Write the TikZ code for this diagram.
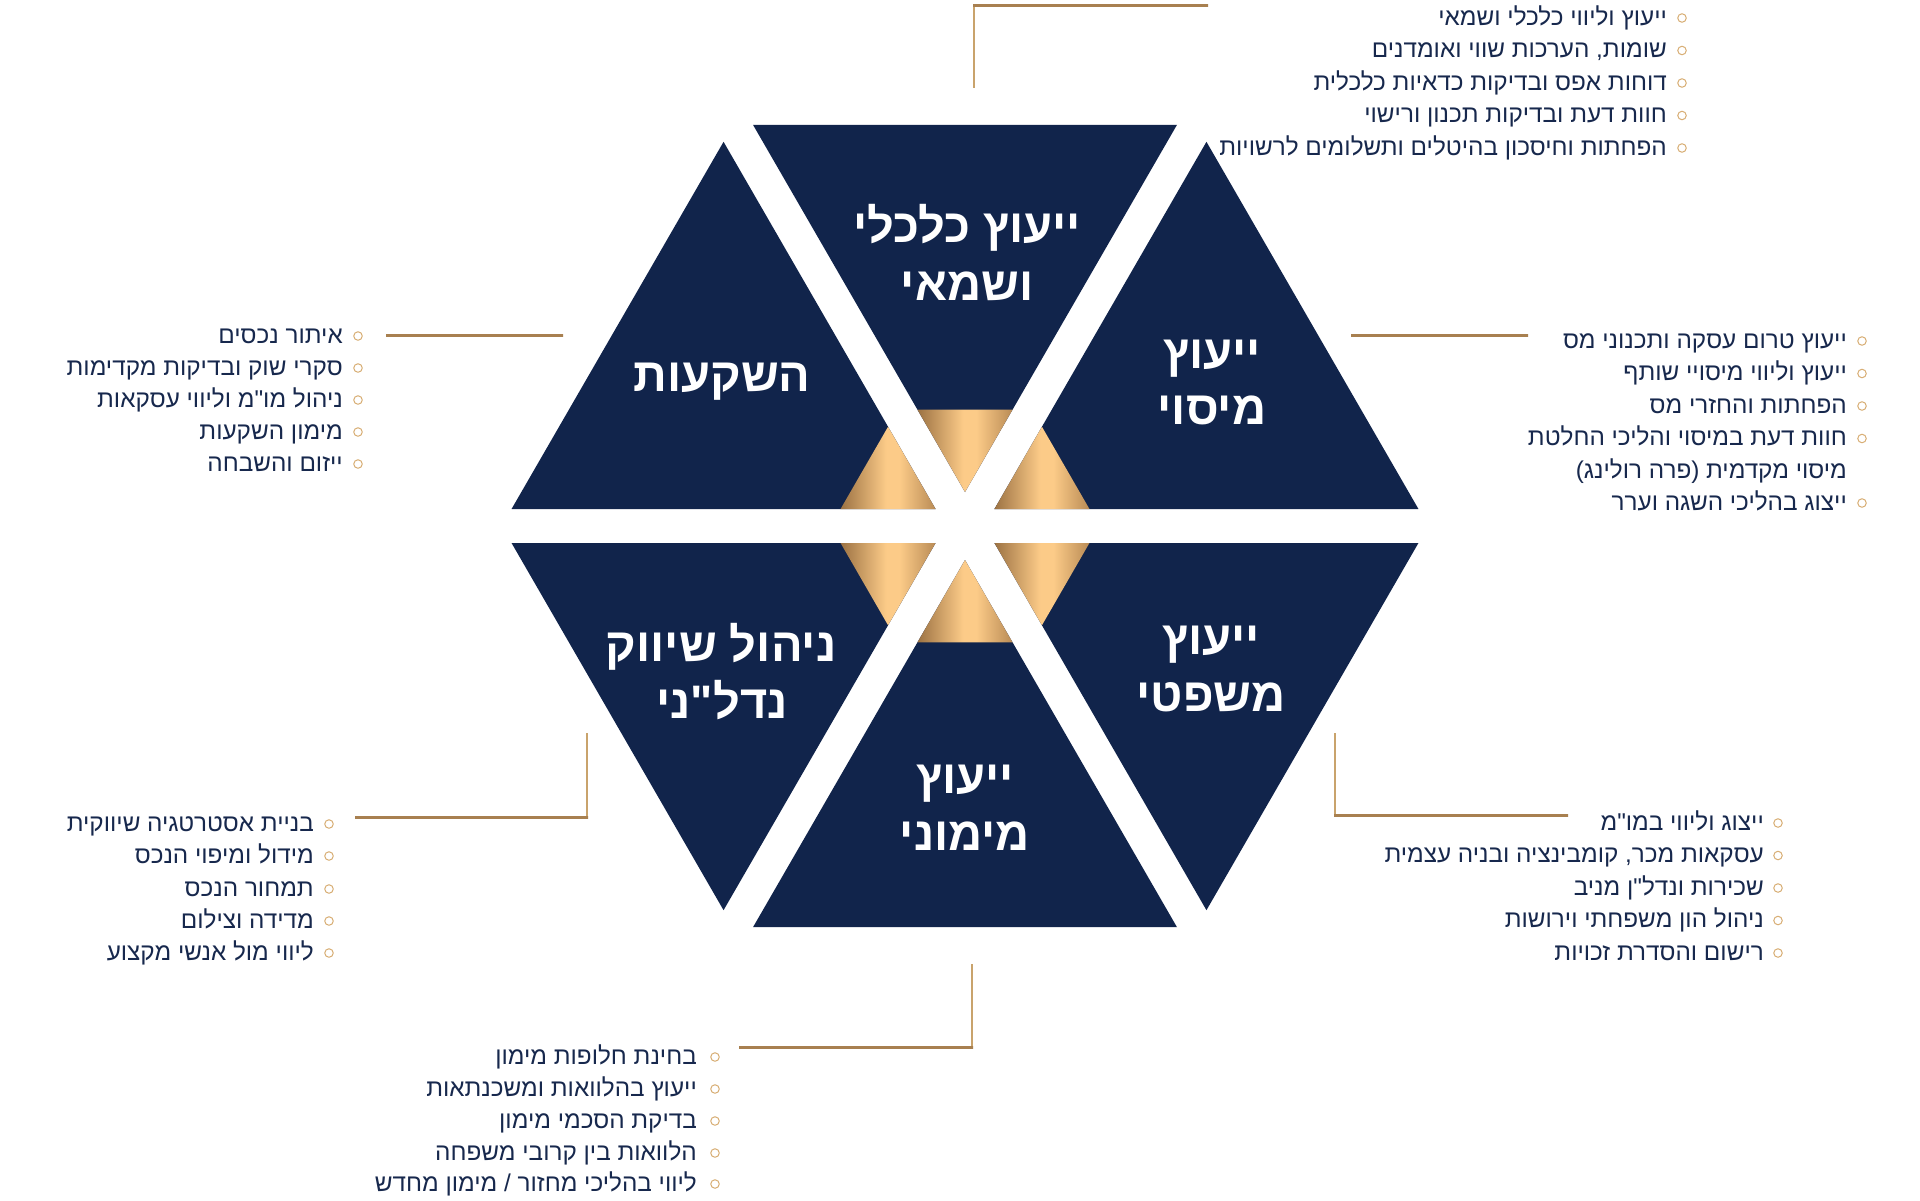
\documentclass[tikz,border=0pt]{standalone}
\usepackage{fontspec}
\usetikzlibrary{calc}
\TeXXeTstate=1
\newfontfamily\hebfont[Script=Hebrew]{Liberation Sans}
\definecolor{navy}{HTML}{11244B}
\definecolor{txtnavy}{HTML}{17284D}
\definecolor{goldD}{HTML}{9C7243}
\definecolor{goldL}{HTML}{FCCB88}
\definecolor{goldM}{HTML}{B98B55}
\definecolor{lineD}{HTML}{A88050}
\definecolor{lineL}{HTML}{FFD295}
\definecolor{lineV}{HTML}{C9A36C}
\definecolor{bulgold}{HTML}{D8AE74}
\pgfdeclarehorizontalshading{goldsh}{100bp}{color(0bp)=(goldD); color(25bp)=(goldD); color(49bp)=(goldL); color(56bp)=(goldL); color(75bp)=(goldM); color(100bp)=(goldM)}
\tikzset{
  titletext/.style={text=white, font=\hebfont\bfseries\fontsize{47}{57}\selectfont, inner sep=0pt, anchor=mid},
  itemtext/.style={text=txtnavy, font=\hebfont\fontsize{24.3}{32}\selectfont, inner sep=0pt, anchor=mid east},
  bul/.style={circle, draw=bulgold, line width=1pt, minimum size=8.5pt, inner sep=0pt},
  goldpiece/.style={shading=goldsh},
  hgold/.style={left color=lineD, middle color=lineL, right color=lineD},
}
\newcommand\hli[5]{%
  \node[itemtext] (#1) at (#2,#4+6) {#5};
  \node[bul] (#1b) at (#3,#4+1) {};}
\newcommand\hlinebar[3]{% x1, x2, y
  \shade[hgold] (#1,#3-1) rectangle (#2,#3+1);}
\newcommand\vlinebar[3]{% x, y1, y2
  \fill[lineV] (#1-1,#2) rectangle (#1+1,#3);}
\begin{document}
\begin{tikzpicture}[x=1pt,y=-1pt]
\useasboundingbox (0,0) rectangle (1920,1200);
\fill[white] (0,0) rectangle (1920,1200);
\coordinate (C) at (965,526);
\def\dd{34}\def\RR{424}\def\ss{95}
\foreach \k in {0,...,5}{
  \pgfmathsetmacro\ph{30+60*\k}
  \pgfmathsetmacro\aa{-(\ph-30)}
  \pgfmathsetmacro\ab{-(\ph+30)}
  \pgfmathsetmacro\am{-\ph}
  \coordinate (sc\k) at ($(C)+(\am:\dd)$);
  \fill[navy] (sc\k) -- ($(sc\k)+(\aa:\RR)$) -- ($(sc\k)+(\ab:\RR)$) -- cycle;
  \shade[goldpiece] (sc\k) -- ($(sc\k)+(\aa:\ss)$) -- ($(sc\k)+(\ab:\ss)$) -- cycle;
}
% titles
\node[titletext] (t1a) at (967,240) {\beginR ייעוץ כלכלי\endR};
\node[titletext] (t1b) at (967,298) {\beginR ושמאי\endR};
\node[titletext] (t2a) at (1212,366) {\beginR ייעוץ\endR};
\node[titletext] (t2b) at (1212,422) {\beginR מיסוי\endR};
\node[titletext] (t3a) at (1211,652) {\beginR ייעוץ\endR};
\node[titletext] (t3b) at (1211,709) {\beginR משפטי\endR};
\node[titletext] (t4a) at (965,791) {\beginR ייעוץ\endR};
\node[titletext] (t4b) at (965,848) {\beginR מימוני\endR};
\node[titletext] (t5a) at (721,659) {\beginR ניהול שיווק\endR};
\node[titletext] (t5b) at (722,716) {\beginR נדל"ני\endR};
\node[titletext] (t6a) at (722,389) {\beginR השקעות\endR};
% connectors
\vlinebar{974}{5.5}{88}
\hlinebar{973}{1208}{5.5}
\hlinebar{1351}{1528}{335}
\hlinebar{386}{563}{335}
\vlinebar{587}{733}{817}
\hlinebar{355}{588}{817}
\vlinebar{1335}{733}{815}
\hlinebar{1334}{1568}{815}
\vlinebar{972}{964}{1047}
\hlinebar{739}{973}{1047}
% top list
\hli{a1}{1667}{1682}{17}{\beginR ייעוץ וליווי כלכלי ושמאי\endR}
\hli{a2}{1667}{1682}{49.5}{\beginR שומות, הערכות שווי ואומדנים\endR}
\hli{a3}{1667}{1682}{82}{\beginR דוחות אפס ובדיקות כדאיות כלכלית\endR}
\hli{a4}{1667}{1682}{114.5}{\beginR חוות דעת ובדיקות תכנון ורישוי\endR}
\hli{a5}{1667}{1682}{147}{\beginR הפחתות וחיסכון בהיטלים ותשלומים לרשויות\endR}
% upper right list
\hli{b1}{1847}{1862}{340}{\beginR ייעוץ טרום עסקה ותכנוני מס\endR}
\hli{b2}{1847}{1862}{372.5}{\beginR ייעוץ וליווי מיסויי שותף\endR}
\hli{b3}{1847}{1862}{405}{\beginR הפחתות והחזרי מס\endR}
\hli{b4}{1847}{1862}{437.5}{\beginR חוות דעת במיסוי והליכי החלטת\endR}
\node[itemtext] (b4c) at (1847,476) {\beginR מיסוי מקדמית (פרה רולינג)\endR};
\hli{b5}{1847}{1862}{502}{\beginR ייצוג בהליכי השגה וערר\endR}
% upper left list
\hli{c1}{343}{358}{335}{\beginR איתור נכסים\endR}
\hli{c2}{343}{358}{367}{\beginR סקרי שוק ובדיקות מקדימות\endR}
\hli{c3}{343}{358}{399}{\beginR ניהול מו"מ וליווי עסקאות\endR}
\hli{c4}{343}{358}{431}{\beginR מימון השקעות\endR}
\hli{c5}{343}{358}{463}{\beginR ייזום והשבחה\endR}
% lower left list
\hli{d1}{314}{329}{823}{\beginR בניית אסטרטגיה שיווקית\endR}
\hli{d2}{314}{329}{855}{\beginR מידול ומיפוי הנכס\endR}
\hli{d3}{314}{329}{888}{\beginR תמחור הנכס\endR}
\hli{d4}{314}{329}{920}{\beginR מדידה וצילום\endR}
\hli{d5}{314}{329}{952}{\beginR ליווי מול אנשי מקצוע\endR}
% lower right list
\hli{e1}{1764}{1778}{822}{\beginR ייצוג וליווי במו"מ\endR}
\hli{e2}{1764}{1778}{854.5}{\beginR עסקאות מכר, קומבינציה ובניה עצמית\endR}
\hli{e3}{1764}{1778}{887}{\beginR שכירות ונדל"ן מניב\endR}
\hli{e4}{1764}{1778}{919.5}{\beginR ניהול הון משפחתי וירושות\endR}
\hli{e5}{1764}{1778}{952}{\beginR רישום והסדרת זכויות\endR}
% bottom list
\hli{f1}{697}{715}{1056}{\beginR בחינת חלופות מימון\endR}
\hli{f2}{697}{715}{1088}{\beginR ייעוץ בהלוואות ומשכנתאות\endR}
\hli{f3}{697}{715}{1120}{\beginR בדיקת הסכמי מימון\endR}
\hli{f4}{697}{715}{1152}{\beginR הלוואות בין קרובי משפחה\endR}
\hli{f5}{697}{715}{1183}{\beginR ליווי בהליכי מחזור / מימון מחדש\endR}
\end{tikzpicture}
\end{document}
